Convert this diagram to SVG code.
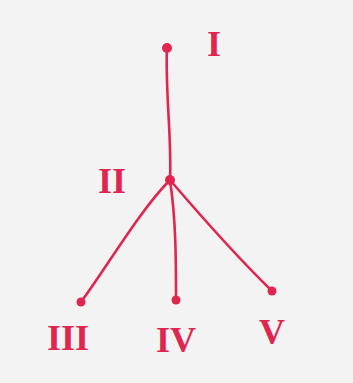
<svg xmlns="http://www.w3.org/2000/svg" width="353" height="383" viewBox="0 0 353 383">
<style>
.ink{stroke:#e0264f;stroke-width:2.6;fill:none;stroke-linecap:round}
.dot{fill:#e0264f}
.lbl{font-family:"Liberation Serif",serif;font-size:36px;font-weight:bold;fill:#e0264f;text-anchor:middle}
</style>
<rect width="353" height="383" fill="#f3f3f3"/>
<g id="connectors">
<path class="ink" d="M167,48 C165,90 172,140 170,180"/>
<path class="ink" d="M170,180 C140,210 105,270 81,302"/>
<path class="ink" d="M170,180 C176,220 176,260 176,300"/>
<path class="ink" d="M170,180 C200,215 240,260 272,291"/>
</g>
<g id="node-I"><circle class="dot" cx="167" cy="48" r="5"/><text class="lbl" x="214" y="56">I</text></g>
<g id="node-II"><circle class="dot" cx="170" cy="180" r="5"/><text class="lbl" x="112" y="193">II</text></g>
<g id="node-III"><circle class="dot" cx="81" cy="302" r="4.5"/><text class="lbl" x="68" y="350">III</text></g>
<g id="node-IV"><circle class="dot" cx="176" cy="300" r="4.5"/><text class="lbl" x="176" y="352">IV</text></g>
<g id="node-V"><circle class="dot" cx="272" cy="291" r="4.5"/><text class="lbl" x="272" y="344">V</text></g>
</svg>
